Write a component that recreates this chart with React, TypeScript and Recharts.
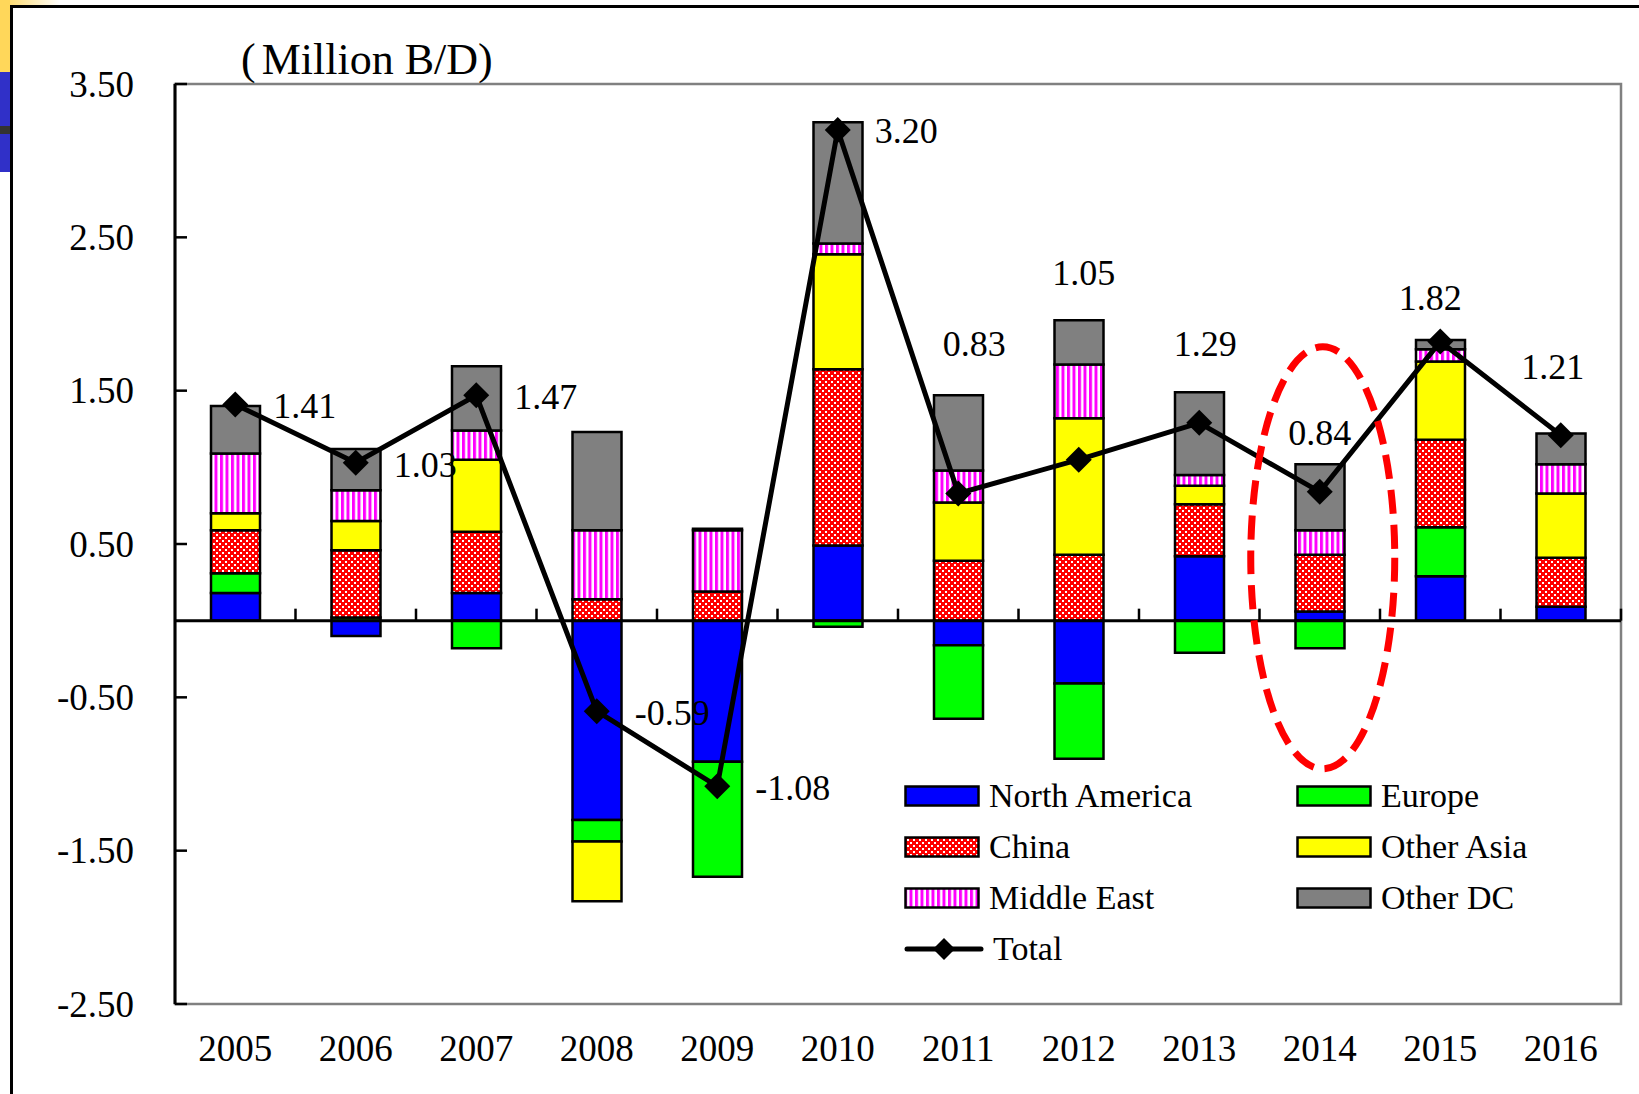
import React from "react";
import {
  Bar,
  ComposedChart,
  Line,
  ReferenceArea,
  ReferenceDot,
  ReferenceLine,
  XAxis,
  YAxis,
} from "recharts";

// demand change by region, million b/d
const years = ["2005", "2006", "2007", "2008", "2009", "2010", "2011", "2012", "2013", "2014", "2015", "2016"];
const northAmerica = [0.18, -0.1, 0.18, -1.3, -0.92, 0.49, -0.16, -0.41, 0.42, 0.06, 0.29, 0.09];
const europe = [0.13, 0.02, -0.18, -0.14, -0.75, -0.04, -0.48, -0.49, -0.21, -0.18, 0.32, 0];
const china = [0.28, 0.44, 0.4, 0.14, 0.19, 1.15, 0.39, 0.43, 0.34, 0.37, 0.57, 0.32];
const otherAsia = [0.11, 0.19, 0.47, -0.39, 0, 0.75, 0.38, 0.89, 0.12, 0, 0.51, 0.42];
const middleEast = [0.39, 0.2, 0.19, 0.45, 0.4, 0.07, 0.21, 0.35, 0.07, 0.16, 0.08, 0.19];
const otherDC = [0.31, 0.27, 0.42, 0.64, 0.01, 0.79, 0.49, 0.29, 0.54, 0.43, 0.06, 0.2];
const total = [1.41, 1.03, 1.47, -0.59, -1.08, 3.2, 0.83, 1.05, 1.29, 0.84, 1.82, 1.21];
const yTicks = [-2.5, -1.5, -0.5, 0.5, 1.5, 2.5, 3.5];

const W = 1639;
const H = 1094;
const PLOT = { left: 175, right: 1621, top: 84, bottom: 1004 };
const ZERO_Y = PLOT.top + (3.5 / 6) * (PLOT.bottom - PLOT.top);
const BAND = (PLOT.right - PLOT.left) / years.length;
const FONT = '"Liberation Serif", "Times New Roman", serif';

const rows = years.map((year, i) => ({
  year,
  na: northAmerica[i],
  europe: europe[i],
  china: china[i],
  otherAsia: otherAsia[i],
  middleEast: middleEast[i],
  otherDC: otherDC[i],
  total: total[i],
}));

const series = [
  { key: "na", name: "North America", fill: "#0000FF" },
  { key: "europe", name: "Europe", fill: "#00FF00" },
  { key: "china", name: "China", fill: "url(#chinaCheck)" },
  { key: "otherAsia", name: "Other Asia", fill: "#FFFF00" },
  { key: "middleEast", name: "Middle East", fill: "url(#meStripe)" },
  { key: "otherDC", name: "Other DC", fill: "#808080" },
];

// where each total label sits relative to its marker (manually placed in the original)
const labelNudge: [number, number, "start" | "middle"][] = [
  [38, 2, "start"],
  [38, 2, "start"],
  [38, 2, "start"],
  [38, 2, "start"],
  [38, 2, "start"],
  [37, 1, "start"],
  [16, -149, "middle"],
  [5, -187, "middle"],
  [6, -79, "middle"],
  [0, -59, "middle"],
  [-10, -44, "middle"],
  [-8, -68, "middle"],
];

function PatternDefs({ suffix = "" }: { suffix?: string }) {
  return (
    <defs>
      <pattern id={`chinaCheck${suffix}`} width="6" height="6" patternUnits="userSpaceOnUse">
        <rect width="6" height="6" fill="#FF0000" />
        <rect x="0" y="0" width="2" height="2" fill="#FFFFFF" />
        <rect x="3" y="3" width="2" height="2" fill="#FFFFFF" />
      </pattern>
      <pattern id={`meStripe${suffix}`} width="5.5" height="10" patternUnits="userSpaceOnUse">
        <rect width="5.5" height="10" fill="#FFFFFF" />
        <rect x="0" y="0" width="3" height="10" fill="#FF00FF" />
      </pattern>
    </defs>
  );
}

function YTick({ y, payload }: any) {
  return (
    <g>
      <line x1={PLOT.left} x2={PLOT.left + 12} y1={y} y2={y} stroke="#000" strokeWidth={2.5} />
      <text x={134} y={y} textAnchor="end" dominantBaseline="central" fontSize={37} fontFamily={FONT} fill="#000">
        {Number(payload.value).toFixed(2)}
      </text>
    </g>
  );
}

function XTick({ x, payload }: any) {
  const edge = x + BAND / 2;
  return (
    <g>
      <line x1={edge} x2={edge} y1={ZERO_Y} y2={ZERO_Y - 12} stroke="#000" strokeWidth={2.5} />
      <text x={x} y={1048} textAnchor="middle" dominantBaseline="central" fontSize={37} fontFamily={FONT} fill="#000">
        {payload.value}
      </text>
    </g>
  );
}

function Diamond({ cx, cy, index }: any) {
  if (cx == null || cy == null) return <g key={`d${index}`} />;
  const r = 13;
  return (
    <polygon
      key={`d${index}`}
      points={`${cx},${cy - r} ${cx + r},${cy} ${cx},${cy + r} ${cx - r},${cy}`}
      fill="#000"
    />
  );
}

function TotalLabel({ x, y, value, index }: any) {
  const [dx, dy, anchor] = labelNudge[index] ?? [38, 0, "start"];
  return (
    <text
      key={`l${index}`}
      x={x + dx}
      y={y + dy}
      textAnchor={anchor}
      dominantBaseline="central"
      fontSize={36}
      fontFamily={FONT}
      fill="#000"
    >
      {Number(value).toFixed(2)}
    </text>
  );
}

function Ellipse({ cx, cy }: any) {
  return (
    <ellipse
      cx={cx + 3}
      cy={cy}
      rx={72}
      ry={211}
      fill="none"
      stroke="#FF0000"
      strokeWidth={7}
      strokeDasharray="24 11"
    />
  );
}

function Swatch({ fill }: { fill: string }) {
  return (
    <svg width={76} height={22} style={{ display: "block" }}>
      <PatternDefs suffix="Lg" />
      <rect x={1.5} y={1.5} width={73} height={19} fill={fill.replace(")", "Lg)")} stroke="#000" strokeWidth={2.5} />
    </svg>
  );
}

function LegendBox() {
  const items = [...series.map((s) => ({ ...s, line: false })), { key: "total", name: "Total", fill: "#000", line: true }];
  const order = ["na", "europe", "china", "otherAsia", "middleEast", "otherDC", "total"];
  return (
    <div
      style={{
        position: "absolute",
        left: 904,
        top: 770,
        display: "grid",
        gridTemplateColumns: "392px 300px",
        gridAutoRows: "51px",
        fontFamily: FONT,
        fontSize: 34,
        color: "#000",
      }}
    >
      {order.map((k) => {
        const it = items.find((i) => i.key === k)!;
        return (
          <div key={k} style={{ display: "flex", alignItems: "center", gap: 9 }}>
            {it.line ? (
              <svg width={80} height={26} style={{ display: "block" }}>
                <line x1={3} x2={77} y1={13} y2={13} stroke="#000" strokeWidth={5} strokeLinecap="round" />
                <polygon points="40,2 51,13 40,24 29,13" fill="#000" />
              </svg>
            ) : (
              <Swatch fill={it.fill} />
            )}
            <span style={{ lineHeight: "40px", whiteSpace: "nowrap" }}>{it.name}</span>
          </div>
        );
      })}
    </div>
  );
}

export default function App() {
  return (
    <div
      style={{
        position: "absolute",
        left: 0,
        top: 0,
        width: W,
        height: H,
        background: "#fff",
        overflow: "hidden",
        fontFamily: FONT,
      }}
    >
      {/* slide background bits around the frame */}
      <div style={{ position: "absolute", left: 0, top: 0, width: 60, height: 5, background: "linear-gradient(90deg, #FFD75A, #fff)" }} />
      <div style={{ position: "absolute", left: 0, top: 0, width: 10, height: 72, background: "#FFD75A" }} />
      <div style={{ position: "absolute", left: 0, top: 72, width: 10, height: 100, background: "#3030C8" }} />
      <div style={{ position: "absolute", left: 0, top: 126, width: 10, height: 8, background: "#333" }} />
      <div
        style={{
          position: "absolute",
          left: 10,
          top: 5,
          width: W,
          height: H,
          borderTop: "3px solid #000",
          borderLeft: "3px solid #000",
        }}
      />

      <div style={{ position: "absolute", left: 241, top: 34, fontSize: 44, lineHeight: "52px", whiteSpace: "nowrap" }}>
        (<span style={{ marginLeft: 6 }}>Million B/D)</span>
      </div>

      <div style={{ position: "absolute", left: 0, top: 0 }}>
        <ComposedChart
          width={W}
          height={H}
          data={rows}
          stackOffset="sign"
          barSize={49}
          margin={{ top: PLOT.top, right: W - PLOT.right, bottom: 0, left: 0 }}
        >
          <PatternDefs />
          <ReferenceArea y1={-2.5} y2={3.5} fill="none" fillOpacity={0} stroke="#808080" strokeWidth={2.5} />
          <XAxis dataKey="year" axisLine={false} tickLine={false} height={H - PLOT.bottom} interval={0} tick={<XTick />} />
          <YAxis
            type="number"
            domain={[-2.5, 3.5]}
            ticks={yTicks}
            width={PLOT.left}
            axisLine={{ stroke: "#000", strokeWidth: 3 }}
            tickLine={false}
            tick={<YTick />}
            allowDataOverflow
          />
          {series.map((s) => (
            <Bar
              key={s.key}
              dataKey={s.key}
              name={s.name}
              stackId="a"
              fill={s.fill}
              stroke="#000"
              strokeWidth={2.5}
              isAnimationActive={false}
            />
          ))}
          <ReferenceLine y={0} stroke="#000" strokeWidth={3} />
          <Line
            dataKey="total"
            name="Total"
            stroke="#000"
            strokeWidth={5}
            dot={(p: any) => <Diamond {...p} />}
            activeDot={false}
            label={(p: any) => <TotalLabel {...p} />}
            isAnimationActive={false}
          />
          <ReferenceDot x="2014" y={0.41} r={1} shape={(p: any) => <Ellipse {...p} />} />
        </ComposedChart>
      </div>

      <LegendBox />
    </div>
  );
}
